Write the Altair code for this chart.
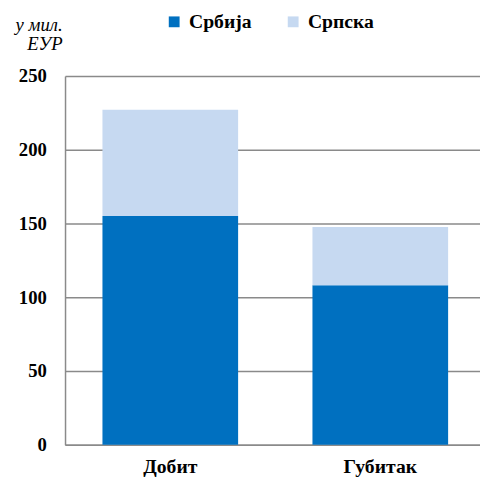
import altair as alt
import pandas as pd

categories = ["Добит", "Губитак"]
series = ["Србија", "Српска"]
srbija = [155, 108]
srpska = [72, 39.5]
colors = ["#0070C0", "#C6D9F1"]
y_ticks = [0, 50, 100, 150, 200, 250]

rows = []
for i, c in enumerate(categories):
    rows.append({"cat": c, "series": series[0], "value": srbija[i], "ord": 0})
    rows.append({"cat": c, "series": series[1], "value": srpska[i], "ord": 1})
df = pd.DataFrame(rows)

FONT = "Liberation Serif"

chart = alt.Chart(df).mark_bar().encode(
    x=alt.X("cat:N", sort=categories,
            scale=alt.Scale(paddingInner=0.354, paddingOuter=0.165, align=0.54),
            axis=alt.Axis(title=None, labelAngle=0, labelFontSize=20, labelFont=FONT,
                          labelFontWeight="bold", labelColor="#000000", labelPadding=12,
                          ticks=False, domainColor="#8a8a8a", domainWidth=1.5, grid=False)),
    y=alt.Y("value:Q", stack="zero",
            scale=alt.Scale(domain=[0, 250], nice=False),
            axis=alt.Axis(values=y_ticks, title=["у мил.", "ЕУР"], titleAngle=0,
                          titleFontSize=19, titleFontStyle="italic", titleFont=FONT,
                          titleFontWeight="normal", titleColor="#000000",
                          titleAlign="right", titleBaseline="alphabetic",
                          titleX=-3, titleY=-46, titleLineHeight=19,
                          labelFontSize=19, labelFontWeight="bold", labelFont=FONT,
                          labelColor="#000000", labelPadding=19, ticks=False,
                          domainColor="#8a8a8a", domainWidth=1.5,
                          grid=True, gridColor="#8a8a8a", gridWidth=1.5)),
    color=alt.Color("series:N", sort=series,
                    scale=alt.Scale(domain=series, range=colors),
                    legend=alt.Legend(title=None, orient="none", direction="horizontal",
                                      legendX=101, legendY=-65, padding=0,
                                      symbolType="square", symbolSize=121,
                                      symbolStrokeWidth=0, symbolOpacity=1,
                                      labelFontSize=20, labelFont=FONT,
                                      labelFontWeight="bold", labelColor="#000000",
                                      labelOffset=5, columnPadding=32)),
    order=alt.Order("ord:Q", sort="ascending"),
).properties(
    width=422, height=375,
    autosize=alt.AutoSizeParams(type="none"),
    padding={"left": 58, "top": 65, "right": 0, "bottom": 40},
).configure_view(stroke=None)

chart.save("out.html", embed_options={"renderer": "svg", "actions": False})
